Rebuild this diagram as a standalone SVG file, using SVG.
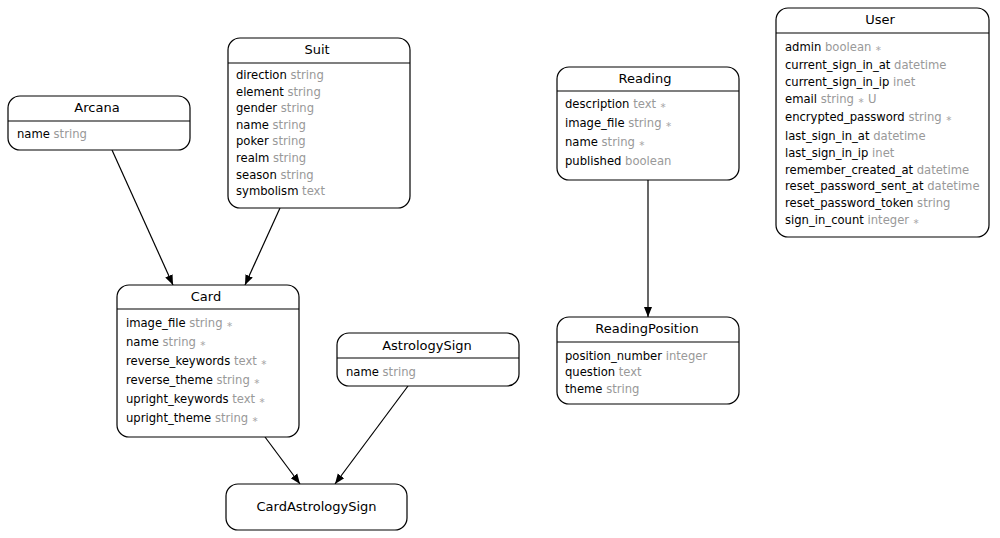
<svg xmlns="http://www.w3.org/2000/svg" width="1000" height="538" viewBox="0 0 1000 538">
<style>
.box{fill:#fff;stroke:#000;stroke-width:1.2}
.div{stroke:#000;stroke-width:1.2}
.t{font-family:"DejaVu Sans",sans-serif;font-size:13px;fill:#000;text-anchor:middle}
.f{font-family:"DejaVu Sans",sans-serif;font-size:11.6px;fill:#000}
.g{fill:#999}
.s{fill:#aaa;font-size:8px}
.e{stroke:#000;stroke-width:1.2;fill:none;marker-end:url(#arr)}
</style>
<defs>
<marker id="arr" viewBox="0 0 10 10" refX="10" refY="5" markerWidth="10" markerHeight="10" markerUnits="userSpaceOnUse" orient="auto">
<path d="M0,1 L10,5 L0,9 z" fill="#000"/>
</marker>
</defs>
<rect width="1000" height="538" fill="#fff"/>
<g id="connectors">
<line class="e" x1="112" y1="150" x2="173" y2="285"/>
<line class="e" x1="280" y1="208" x2="245" y2="285"/>
<line class="e" x1="648" y1="180" x2="648" y2="317"/>
<line class="e" x1="265" y1="437" x2="300" y2="484"/>
<line class="e" x1="408" y1="386" x2="335" y2="484"/>
</g>
<g id="Arcana">
<rect class="box" x="8" y="96" width="182" height="54" rx="12"/>
<line class="div" x1="8" y1="121" x2="190" y2="121"/>
<text class="t" x="97" y="112">Arcana</text>
<text class="f" x="17" y="138">name <tspan class="g">string</tspan></text>
</g>
<g id="Suit">
<rect class="box" x="228" y="38" width="182" height="170" rx="12"/>
<line class="div" x1="228" y1="63" x2="410" y2="63"/>
<text class="t" x="317" y="54">Suit</text>
<text class="f" x="236" y="79">direction <tspan class="g">string</tspan></text>
<text class="f" x="236" y="96">element <tspan class="g">string</tspan></text>
<text class="f" x="236" y="112">gender <tspan class="g">string</tspan></text>
<text class="f" x="236" y="129">name <tspan class="g">string</tspan></text>
<text class="f" x="236" y="145">poker <tspan class="g">string</tspan></text>
<text class="f" x="236" y="162">realm <tspan class="g">string</tspan></text>
<text class="f" x="236" y="179">season <tspan class="g">string</tspan></text>
<text class="f" x="236" y="195">symbolism <tspan class="g">text</tspan></text>
</g>
<g id="Card">
<rect class="box" x="117" y="285" width="182" height="152" rx="12"/>
<line class="div" x1="117" y1="309" x2="299" y2="309"/>
<text class="t" x="206" y="301">Card</text>
<text class="f" x="126" y="327">image_file <tspan class="g">string</tspan> <tspan class="s">∗</tspan></text>
<text class="f" x="126" y="346">name <tspan class="g">string</tspan> <tspan class="s">∗</tspan></text>
<text class="f" x="126" y="365">reverse_keywords <tspan class="g">text</tspan> <tspan class="s">∗</tspan></text>
<text class="f" x="126" y="384">reverse_theme <tspan class="g">string</tspan> <tspan class="s">∗</tspan></text>
<text class="f" x="126" y="403">upright_keywords <tspan class="g">text</tspan> <tspan class="s">∗</tspan></text>
<text class="f" x="126" y="422">upright_theme <tspan class="g">string</tspan> <tspan class="s">∗</tspan></text>
</g>
<g id="AstrologySign">
<rect class="box" x="337" y="333" width="182" height="53" rx="12"/>
<line class="div" x1="337" y1="358" x2="519" y2="358"/>
<text class="t" x="427" y="350">AstrologySign</text>
<text class="f" x="346" y="376">name <tspan class="g">string</tspan></text>
</g>
<g id="CardAstrologySign">
<rect class="box" x="226" y="484" width="181" height="46" rx="12"/>
<text class="t" x="316.5" y="511">CardAstrologySign</text>
</g>
<g id="Reading">
<rect class="box" x="557" y="67" width="182" height="113" rx="12"/>
<line class="div" x1="557" y1="91" x2="739" y2="91"/>
<text class="t" x="645" y="83">Reading</text>
<text class="f" x="565" y="108">description <tspan class="g">text</tspan> <tspan class="s">∗</tspan></text>
<text class="f" x="565" y="127">image_file <tspan class="g">string</tspan> <tspan class="s">∗</tspan></text>
<text class="f" x="565" y="146">name <tspan class="g">string</tspan> <tspan class="s">∗</tspan></text>
<text class="f" x="565" y="165">published <tspan class="g">boolean</tspan></text>
</g>
<g id="ReadingPosition">
<rect class="box" x="557" y="317" width="182" height="87" rx="12"/>
<line class="div" x1="557" y1="342" x2="739" y2="342"/>
<text class="t" x="647" y="333">ReadingPosition</text>
<text class="f" x="565" y="360">position_number <tspan class="g">integer</tspan></text>
<text class="f" x="565" y="376">question <tspan class="g">text</tspan></text>
<text class="f" x="565" y="393">theme <tspan class="g">string</tspan></text>
</g>
<g id="User">
<rect class="box" x="776" y="8" width="213" height="229" rx="12"/>
<line class="div" x1="776" y1="33" x2="989" y2="33"/>
<text class="t" x="880" y="24">User</text>
<text class="f" x="785" y="51">admin <tspan class="g">boolean</tspan> <tspan class="s">∗</tspan></text>
<text class="f" x="785" y="69">current_sign_in_at <tspan class="g">datetime</tspan></text>
<text class="f" x="785" y="86">current_sign_in_ip <tspan class="g">inet</tspan></text>
<text class="f" x="785" y="103">email <tspan class="g">string</tspan> <tspan class="s">∗</tspan> <tspan class="g">U</tspan></text>
<text class="f" x="785" y="121">encrypted_password <tspan class="g">string</tspan> <tspan class="s">∗</tspan></text>
<text class="f" x="785" y="140">last_sign_in_at <tspan class="g">datetime</tspan></text>
<text class="f" x="785" y="157">last_sign_in_ip <tspan class="g">inet</tspan></text>
<text class="f" x="785" y="174">remember_created_at <tspan class="g">datetime</tspan></text>
<text class="f" x="785" y="190">reset_password_sent_at <tspan class="g">datetime</tspan></text>
<text class="f" x="785" y="207">reset_password_token <tspan class="g">string</tspan></text>
<text class="f" x="785" y="224">sign_in_count <tspan class="g">integer</tspan> <tspan class="s">∗</tspan></text>
</g>
</svg>
